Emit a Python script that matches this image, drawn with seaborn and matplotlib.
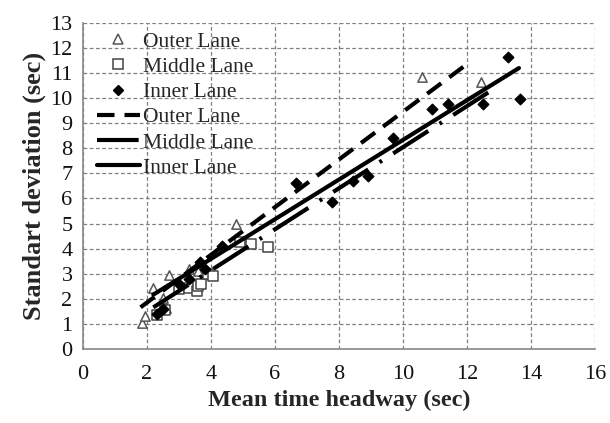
import numpy as np
import pandas as pd
import matplotlib
matplotlib.use("Agg")
import matplotlib.pyplot as plt
import seaborn as sns
from matplotlib.lines import Line2D

sns.set_theme(style="white")
plt.rcParams["font.family"] = ["Liberation Serif", "DejaVu Serif"]

# Observed headway statistics per lane (mean headway, standard deviation), in seconds
outer_x = [1.85, 1.95, 2.2, 2.5, 2.6, 2.7, 3.0, 3.3, 3.6, 4.8, 10.6, 12.45]
outer_y = [1.05, 1.3, 2.45, 2.05, 1.65, 2.95, 2.5, 3.2, 3.1, 5.0, 10.85, 10.65]

middle_x = [2.3, 2.55, 3.0, 3.3, 3.55, 3.6, 3.7, 3.9, 4.05, 4.9, 5.25, 5.8]
middle_y = [1.35, 1.55, 2.4, 2.45, 2.3, 2.5, 2.6, 3.0, 2.9, 4.25, 4.2, 4.05]

inner_x = [2.3, 2.5, 3.0, 3.3, 3.65, 3.8, 4.35, 6.65, 7.8, 8.45, 8.9, 9.7,
           10.9, 11.4, 12.5, 13.3, 13.65]
inner_y = [1.4, 1.6, 2.6, 2.8, 3.45, 3.2, 4.1, 6.6, 5.85, 6.7, 6.9, 8.4,
           9.55, 9.75, 9.75, 11.65, 9.95]

# Linear fits per lane: slope, intercept and x-range of the fitted line
lanes = ["Outer Lane", "Middle Lane", "Inner Lane"]
fit_slope = [0.95, 0.818, 0.79]
fit_intercept = [-0.05, -0.14, 0.43]
fit_xmin = [1.8, 2.2, 2.2]
fit_xmax = [12.0, 12.7, 13.63]

points = pd.concat([
    pd.DataFrame({"x": outer_x, "y": outer_y, "lane": "Outer Lane"}),
    pd.DataFrame({"x": middle_x, "y": middle_y, "lane": "Middle Lane"}),
    pd.DataFrame({"x": inner_x, "y": inner_y, "lane": "Inner Lane"}),
], ignore_index=True)

fig = plt.figure(figsize=(6.10, 4.23), dpi=100)
ax = fig.add_axes([0.136, 0.175, 0.839, 0.771])

marker_style = {
    "Outer Lane": dict(marker="^", facecolor="white", edgecolor="#555555", size=45),
    "Middle Lane": dict(marker="s", facecolor="white", edgecolor="#444444", size=48),
    "Inner Lane": dict(marker="D", facecolor="black", edgecolor="black", size=28),
}
for lane in lanes:
    st = marker_style[lane]
    sub = points[points["lane"] == lane]
    sns.scatterplot(data=sub, x="x", y="y", ax=ax, marker=st["marker"],
                    s=st["size"], facecolor=st["facecolor"],
                    edgecolor=st["edgecolor"], linewidth=1.1, zorder=3,
                    legend=False)

line_dash = {
    "Outer Lane": (0, (4.2, 2.4)),
    "Middle Lane": (0, (10.0, 3.2, 0.7, 3.2)),
    "Inner Lane": "solid",
}
for lane, m, b, x0, x1 in zip(lanes, fit_slope, fit_intercept, fit_xmin, fit_xmax):
    xs = np.array([x0, x1])
    line = pd.DataFrame({"x": xs, "y": m * xs + b})
    sns.lineplot(data=line, x="x", y="y", ax=ax, color="black", linewidth=3.0,
                 linestyle=line_dash[lane], zorder=4, legend=False)

ax.set_xlim(0, 16)
ax.set_ylim(0, 13)
ax.set_xticks(np.arange(0, 17, 2))
ax.set_yticks(np.arange(0, 14, 1))
ax.grid(True, color="#808080", linestyle=(0, (3, 2)), linewidth=0.9)
ax.set_axisbelow(True)

for side in ["top", "right"]:
    ax.spines[side].set_visible(False)
for side in ["left", "bottom"]:
    ax.spines[side].set_color("#888888")
    ax.spines[side].set_linewidth(1.2)

ax.tick_params(axis="both", direction="inout", length=7, width=1.0,
               color="#888888", labelsize=16, labelcolor="#111111", pad=4)
ax.tick_params(axis="x", pad=8)
ax.set_xlabel("Mean time headway (sec)", fontsize=17.5, fontweight="bold", labelpad=4)
ax.set_ylabel("Standart deviation (sec)", fontsize=19, fontweight="bold", labelpad=3)

handles = [
    Line2D([], [], linestyle="none", marker="^", markerfacecolor="white",
           markeredgecolor="#555555", markersize=7, markeredgewidth=1.1),
    Line2D([], [], linestyle="none", marker="s", markerfacecolor="white",
           markeredgecolor="#444444", markersize=7, markeredgewidth=1.1),
    Line2D([], [], linestyle="none", marker="D", markerfacecolor="black",
           markeredgecolor="black", markersize=5.5),
    Line2D([], [], color="black", linewidth=3.0, linestyle=line_dash["Outer Lane"]),
    Line2D([], [], color="black", linewidth=3.0, linestyle=line_dash["Middle Lane"]),
    Line2D([], [], color="black", linewidth=3.0, linestyle="solid"),
]
labels = lanes + lanes
leg = ax.legend(handles, labels, loc="upper left", frameon=False, fontsize=15.5,
                handlelength=2.0, handletextpad=0.15, labelspacing=0.24,
                borderpad=0.0, borderaxespad=0.0, bbox_to_anchor=(0.027, 0.973))
leg.set_zorder(5)

fig.savefig("out.png", dpi=100, facecolor="white")
